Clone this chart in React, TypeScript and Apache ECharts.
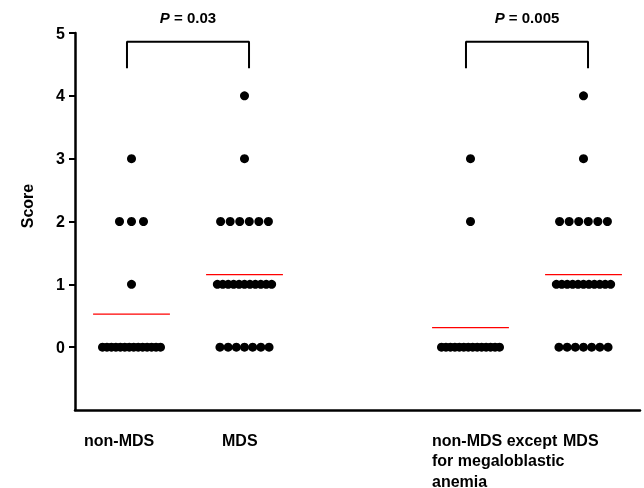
import React, { useEffect, useRef } from "react";
import * as echarts from "echarts";

// Score levels and number of patients at each level, per group
const scoreLevels = [0, 1, 2, 3, 4];
const nonMdsCounts = [14, 1, 3, 1, 0];
const mdsCounts = [7, 11, 6, 1, 1];
const nonMdsExceptMegCounts = [14, 0, 1, 1, 0];
const mdsCounts2 = [7, 11, 6, 1, 1];

const groupPositions = [1, 2, 4, 5];
const groupLabels = [["non-MDS"], ["MDS"], ["non-MDS except", "for megaloblastic", "anemia"], ["MDS"]];
const pValues = ["0.03", "0.005"];
const yTicks = [0, 1, 2, 3, 4, 5];

const FONT = "'Liberation Sans', Arial, sans-serif";
const PX_PER_UNIT = 113; // approx. horizontal pixels per x unit (layout only)

function rowSpanPx(n: number) {
  if (n <= 1) return 0;
  if (n <= 4) return 12 * (n - 1);
  return Math.min(40 + 1.3 * n, 58);
}

function buildPoints(counts: number[], gx: number) {
  const pts: number[][] = [];
  counts.forEach((n, i) => {
    const span = rowSpanPx(n);
    for (let k = 0; k < n; k++) {
      const off = n <= 1 ? 0 : -span / 2 + (span * k) / (n - 1);
      pts.push([gx + off / PX_PER_UNIT, scoreLevels[i]]);
    }
  });
  return pts;
}

function mean(counts: number[]) {
  let s = 0, c = 0;
  counts.forEach((n, i) => { s += n * scoreLevels[i]; c += n; });
  return s / c;
}

export default function App() {
  const ref = useRef<HTMLDivElement>(null);
  useEffect(() => {
    if (!ref.current) return;
    const chart = echarts.init(ref.current, null, { renderer: "svg" });
    const groups = [nonMdsCounts, mdsCounts, nonMdsExceptMegCounts, mdsCounts2];
    const series: any[] = [];
    groups.forEach((counts, gi) => {
      const gx = groupPositions[gi];
      series.push({
        type: "scatter",
        data: buildPoints(counts, gx),
        symbol: "circle",
        symbolSize: 9,
        itemStyle: { color: "#000", opacity: 1 },
        silent: true,
      });
      const m = mean(counts);
      series.push({
        type: "line",
        data: [[gx - 0.34, m], [gx + 0.34, m]],
        symbol: "none",
        lineStyle: { color: "#ff0000", width: 1.2 },
        silent: true,
      });
    });
    // significance brackets
    const bracketTop = 4.86;
    const bracketBottom = 4.44;
    [[0, 1], [2, 3]].forEach(([a, b]) => {
      const xa = groupPositions[a] - 0.04;
      const xb = groupPositions[b] + 0.04;
      series.push({
        type: "line",
        data: [[xa, bracketBottom], [xa, bracketTop], [xb, bracketTop], [xb, bracketBottom]],
        symbol: "none",
        lineStyle: { color: "#000", width: 2 },
        silent: true,
      });
    });

    const gridLeft = 75, gridRight = 4, gridTop = 33, gridBottom = 78;
    const plotW = 644 - gridLeft - gridRight;
    const xToPx = (v: number) => gridLeft + ((v - 0.5) / 5) * plotW;

    const graphics: any[] = [];
    const labelLeft = [84, 222, 432, 563];
    groupLabels.forEach((lines, i) => {
      lines.forEach((t, j) => {
        graphics.push({
          type: "text",
          x: labelLeft[i],
          y: 440 + j * 20.5,
          style: {
            text: t,
            font: `bold 16px ${FONT}`,
            fill: "#000",
            align: "left",
            verticalAlign: "middle",
          },
        });
      });
    });
    [[0, 1], [2, 3]].forEach(([a, b], i) => {
      const cx = (xToPx(groupPositions[a]) + xToPx(groupPositions[b])) / 2;
      graphics.push({
        type: "text",
        x: cx,
        y: 17,
        style: {
          text: `{i|P}{n| = ${pValues[i]}}`,
          align: "center",
          verticalAlign: "middle",
          rich: {
            i: { font: `italic bold 15px ${FONT}`, fill: "#000" },
            n: { font: `bold 15px ${FONT}`, fill: "#000" },
          },
        },
      });
    });
    graphics.push({
      type: "text",
      x: 27,
      y: 206,
      rotation: Math.PI / 2,
      style: {
        text: "Score",
        font: `bold 16px ${FONT}`,
        fill: "#000",
        align: "center",
        verticalAlign: "middle",
      },
    });

    chart.setOption({
      animation: false,
      grid: { left: gridLeft, right: gridRight, top: gridTop, bottom: gridBottom },
      xAxis: {
        type: "value",
        min: 0.5,
        max: 5.5,
        axisLine: { show: true, onZero: false, lineStyle: { color: "#000", width: 2.5 } },
        axisTick: { show: false },
        axisLabel: { show: false },
        splitLine: { show: false },
      },
      yAxis: {
        type: "value",
        min: -1,
        max: 5,
        interval: 1,
        axisLine: { show: true, onZero: false, lineStyle: { color: "#000", width: 2.5 } },
        axisTick: { show: true, length: 6, customValues: yTicks, lineStyle: { color: "#000", width: 2 } },
        axisLabel: {
          customValues: yTicks,
          margin: 10,
          color: "#000",
          fontFamily: FONT,
          fontWeight: "bold",
          fontSize: 16,
          formatter: (v: number) => (v < 0 ? "" : String(v)),
        },
        splitLine: { show: false },
      },
      graphic: graphics,
      series,
    });
    return () => chart.dispose();
  }, []);
  return (
    <div
      ref={ref}
      style={{ position: "fixed", left: 0, top: 0, width: 644, height: 488 }}
    />
  );
}
